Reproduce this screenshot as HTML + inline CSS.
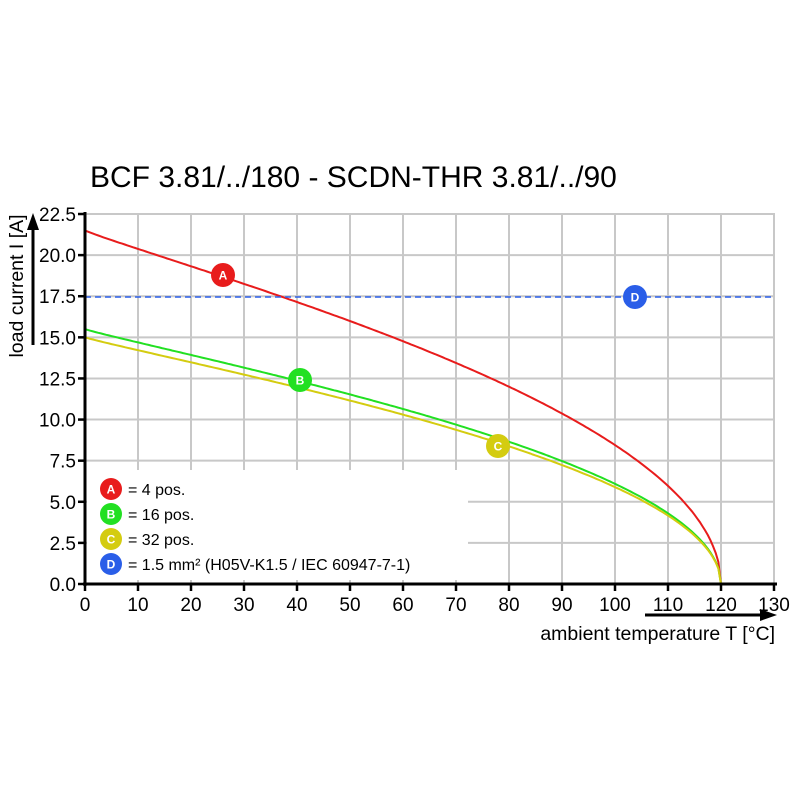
<!DOCTYPE html>
<html><head><meta charset="utf-8"><style>body{margin:0;background:#fff}svg{display:block}</style></head>
<body>
<svg id="s" width="800" height="800" xmlns="http://www.w3.org/2000/svg" font-family="Liberation Sans, sans-serif">
<rect width="800" height="800" fill="#fff"/>
<text x="90" y="187" font-size="30" fill="#000">BCF 3.81/../180 - SCDN-THR 3.81/../90</text>
<g id="grid" stroke="#c8c8c8" stroke-width="2"></g>
<rect x="87" y="470" width="381" height="110" fill="#fff"/>
<g id="curves" fill="none" stroke-width="2"></g>
<line x1="85" y1="297" x2="775" y2="297" stroke="#2a5ee8" stroke-width="1.6" stroke-dasharray="6,4"/>
<line x1="85" y1="212" x2="85" y2="586" stroke="#000" stroke-width="3"/>
<line x1="83" y1="584" x2="777" y2="584" stroke="#000" stroke-width="3"/>
<g id="ticks" stroke="#000" stroke-width="2.5"></g>
<g id="labels" font-size="19" fill="#000"></g>
<text transform="translate(23,286) rotate(-90)" text-anchor="middle" font-size="19.5">load current I [A]</text>
<line x1="33" y1="345" x2="33" y2="228" stroke="#000" stroke-width="3"/>
<polygon points="27,230 39,230 33,213" fill="#000"/>
<line x1="645" y1="615" x2="762" y2="615" stroke="#000" stroke-width="3"/>
<polygon points="760,609 760,621 777,615" fill="#000"/>
<text x="775" y="640" text-anchor="end" font-size="19.5">ambient temperature T [°C]</text>
<g id="marks" font-size="12" font-weight="bold" fill="#fff" text-anchor="middle"></g>
<g font-size="16" fill="#000">
<text x="128" y="495">= 4 pos.</text>
<text x="128" y="520">= 16 pos.</text>
<text x="128" y="545">= 32 pos.</text>
<text x="128" y="570">= 1.5 mm² (H05V-K1.5 / IEC 60947-7-1)</text>
</g>
</svg>
<script>
const X=t=>85+t*5.3, Y=v=>584-v*16.444;
const NS="http://www.w3.org/2000/svg";
function el(p,n,a,txt){const e=document.createElementNS(NS,n);for(const k in a)e.setAttribute(k,a[k]);if(txt!=null)e.textContent=txt;document.getElementById(p).appendChild(e);}
for(let t=10;t<=130;t+=10)el("grid","line",{x1:X(t),y1:214,x2:X(t),y2:584});
for(let v=2.5;v<=22.5;v+=2.5)el("grid","line",{x1:85,y1:Y(v),x2:775,y2:Y(v)});
for(let t=0;t<=130;t+=10){el("ticks","line",{x1:X(t),y1:584,x2:X(t),y2:591});el("labels","text",{x:X(t),y:611,"text-anchor":"middle"},t);}
for(let i=0;i<=9;i++){const v=i*2.5;el("ticks","line",{x1:78,y1:Y(v),x2:85,y2:Y(v)});el("labels","text",{x:76,y:Y(v)+7,"text-anchor":"end"},v.toFixed(1));}
[[21.5,"#e81c1c"],[15.5,"#22e022"],[15.0,"#d4cc10"]].forEach(([I,c])=>{let d="";for(let t=0;t<=120;t+=0.5){const v=I*Math.sqrt(Math.max(0,1-Math.pow(t/120,0.92)));d+=(t?"L":"M")+X(t).toFixed(1)+","+Y(v).toFixed(1);}el("curves","path",{d:d,stroke:c});});
[[223,275,"#e81c1c","A"],[300,380,"#22e022","B"],[498,446,"#d4cc10","C"],[635,297,"#2a5ee8","D"],[111,489,"#e81c1c","A"],[111,514,"#22e022","B"],[111,539,"#d4cc10","C"],[111,564,"#2a5ee8","D"]].forEach(([x,y,c,l],i)=>{const r=i<4?12:11;el("marks","circle",{cx:x,cy:y,r:r,fill:c});el("marks","text",{x:x,y:y+4.5},l);});
</script>
</body></html>
